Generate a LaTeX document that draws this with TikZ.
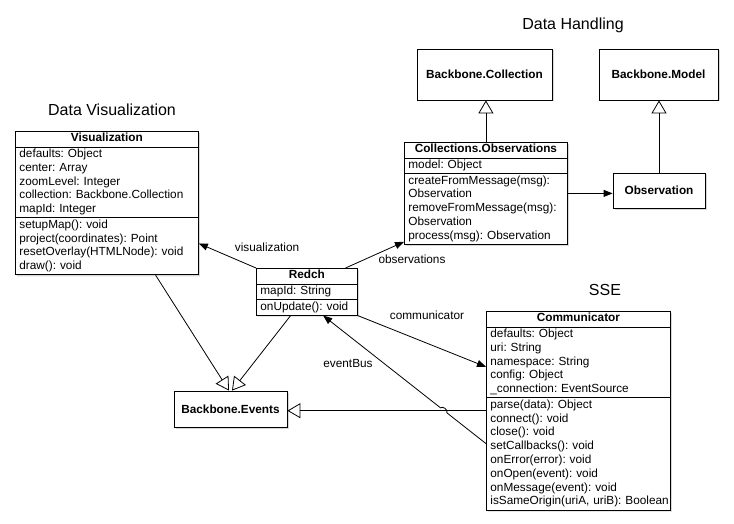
\documentclass[tikz,border=0pt]{standalone}
\usepackage{fontspec}
\setmainfont{Liberation Sans}
\frenchspacing
\usetikzlibrary{shapes.multipart, arrows.meta, positioning, calc, shadows}
\newcommand{\umltitle}[1]{\makebox[\linewidth]{\textbf{#1}\strut}}
\tikzset{
  % Box styles
  classbox/.style={rectangle split, rectangle split parts=3, draw, fill=white, anchor=north west, align=left, inner xsep=4pt, inner ysep=0.5pt, line width=0.8pt, font=\fontsize{11.8}{13.8}\selectfont, drop shadow={shadow xshift=1.5pt, shadow yshift=-1.5pt, opacity=0.3}},
  basebox/.style={rectangle, draw, fill=white, inner sep=0pt, line width=0.8pt, font=\fontsize{11.8}{13.8}\selectfont\bfseries, align=center, drop shadow={shadow xshift=1.5pt, shadow yshift=-1.5pt, opacity=0.3}},
  grouplabel/.style={font=\fontsize{16}{19}\selectfont},
  edgelabel/.style={font=\fontsize{11.8}{13.8}\selectfont, inner sep=1pt},
  % Arrow styles
  arrow/.style={-{Triangle[length=9pt, width=7pt]}, line width=0.8pt},
  inherit/.style={-{Triangle[open, length=13pt, width=15pt]}, line width=0.8pt}
}

\begin{document}
\begin{tikzpicture}[x=1pt, y=-1pt]
  \path[use as bounding box, fill=white] (0,0) rectangle (734,524);

  % Group titles
  \node[grouplabel] (tvis) at (112,110) {Data Visualization};
  \node[grouplabel] (tdata) at (573,25) {Data Handling};
  \node[grouplabel] (tsse) at (605,290) {SSE};

  % Base classes
  \node[basebox, minimum width=135pt, minimum height=51pt] (bcoll) at (484.5,74.5) {Backbone.Collection};
  \node[basebox, minimum width=119pt, minimum height=51pt] (bmodel) at (658.5,74.5) {Backbone.Model};
  \node[basebox, minimum width=92pt, minimum height=35pt] (obs) at (659,190.5) {Observation};
  \node[basebox, minimum width=113pt, minimum height=36pt] (events) at (230.5,409) {Backbone.Events};

  % Classes
  \node[classbox, text width=175pt] (vis) at (15,131) {\umltitle{Visualization}
    \nodepart{two}\strut defaults: Object\\ center: Array\\ zoomLevel: Integer\\ collection: Backbone.Collection\\ mapId: Integer\strut
    \nodepart{three}\strut setupMap(): void\\ project(coordinates): Point\\ resetOverlay(HTMLNode): void\\ draw(): void\strut
  };
  \node[classbox, text width=155pt] (coll) at (404,142) {\umltitle{Collections.Observations}
    \nodepart{two}\strut model: Object\strut
    \nodepart{three}\strut createFromMessage(msg):\\ Observation\\ removeFromMessage(msg):\\ Observation\\ process(msg): Observation\strut
  };
  \node[classbox, text width=93pt] (redch) at (256,268) {\umltitle{Redch}
    \nodepart{two}\strut mapId: String\strut
    \nodepart{three}\strut onUpdate(): void\strut
  };
  \node[classbox, text width=176pt] (comm) at (486,311) {\umltitle{Communicator}
    \nodepart{two}\strut defaults: Object\\ uri: String\\ namespace: String\\ config: Object\\ \_connection: EventSource\strut
    \nodepart{three}\strut parse(data): Object\\ connect(): void\\ close(): void\\ setCallbacks(): void\\ onError(error): void\\ onOpen(event): void\\ onMessage(event): void\\ \mbox{isSameOrigin(uriA, uriB): Boolean}\strut
  };

  % Inheritance
  \draw[inherit] (coll.north) -- (coll.north |- bcoll.south);
  \draw[inherit] (obs.north) -- (obs.north |- bmodel.south);
  \draw[inherit] ($(vis.south west)!0.765!(vis.south east)$) -- ([xshift=-1.5pt]events.north);
  \draw[inherit] ($(redch.south west)!0.34!(redch.south east)$) -- ([xshift=1.5pt]events.north);
  \draw[inherit] (comm.west) -- (comm.west -| events.east);

  % Associations
  \draw[arrow] (coll.east) -- (coll.east -| obs.west);
  \draw[arrow] (redch.north west) -- ($(vis.north east)!0.78!(vis.south east)$);
  \draw[arrow] ($(redch.north west)!0.88!(redch.north east)$) -- ([yshift=3pt]coll.south west);
  \draw[arrow] (redch.south east) -- ($(comm.north west)!0.28!(comm.south west)$);
  \coordinate (ebstart) at ($(comm.north west)!0.665!(comm.south west)$);
  \coordinate (ebend) at ($(redch.south west)!0.66!(redch.south east)$);
  \coordinate (jump) at (intersection of ebstart--ebend and comm.west--events.east);
  \draw[arrow] (ebstart) -- ($(jump)!4pt!(ebstart)$) to[bend right=90] ($(jump)!4pt!(ebend)$) -- (ebend);

  % Edge labels
  \node[edgelabel] (lvis) at (267,247) {visualization};
  \node[edgelabel] (lobs) at (412,259) {observations};
  \node[edgelabel] (lcomm) at (427,315) {communicator};
  \node[edgelabel] (lbus) at (348,363) {eventBus};
\end{tikzpicture}
\end{document}
